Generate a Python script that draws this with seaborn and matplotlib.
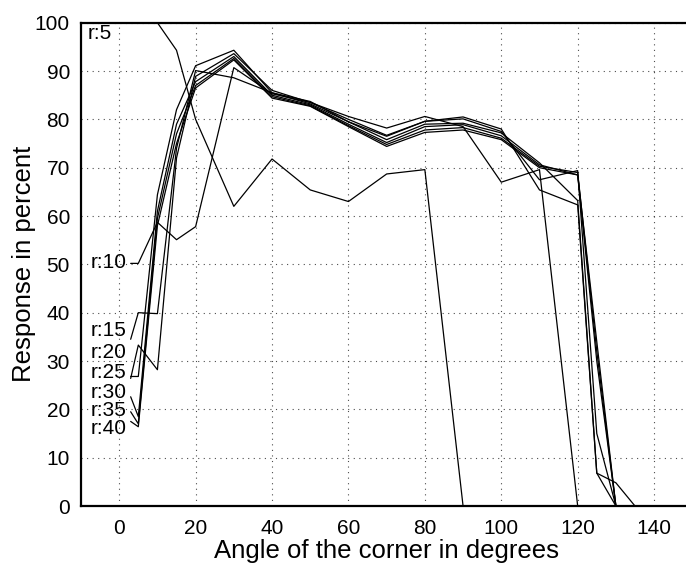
import numpy as np
import pandas as pd
import matplotlib
matplotlib.use('Agg')
import matplotlib.pyplot as plt
import seaborn as sns

angles = [3, 5, 10, 15, 20, 30, 40, 50, 60, 70, 80, 90, 100, 110, 120, 125, 130, 135]
r5  = [100, 100, 100, 94.3, 80.0, 62.0, 71.8, 65.4, 63.0, 68.7, 69.6, 0, 0, 0, 0, 0, 0, 0]
r10 = [50.2, 50.2, 58.7, 55.1, 57.8, 90.7, 85.3, 83.5, 80.6, 78.2, 80.6, 78.5, 67.0, 69.6, 0, 0, 0, 0]
r15 = [34.5, 40.0, 39.8, 74.0, 90.1, 88.6, 85.5, 83.7, 79.5, 76.5, 79.6, 80.5, 78.0, 65.4, 62.3, 6.8, 4.8, 0]
r20 = [26.4, 33.3, 28.2, 72.0, 88.9, 93.6, 86.0, 83.5, 80.0, 76.7, 79.6, 80.1, 77.5, 67.5, 69.4, 15.0, 0, 0]
r25 = [26.8, 26.8, 64.4, 82.0, 91.1, 94.3, 85.5, 83.2, 79.5, 75.8, 79.0, 79.2, 77.2, 71.0, 63.2, 6.8, 0, 0]
r30 = [22.6, 18.5, 61.0, 79.0, 87.8, 93.0, 85.0, 83.0, 79.0, 75.2, 78.5, 78.9, 76.6, 70.6, 68.5, 30.0, 0, 0]
r35 = [19.5, 17.0, 59.5, 77.0, 87.0, 92.6, 84.7, 82.8, 78.7, 74.8, 77.8, 78.3, 76.1, 70.3, 69.0, 32.0, 0, 0]
r40 = [17.5, 16.4, 58.0, 75.0, 86.5, 92.3, 84.4, 82.7, 78.5, 74.4, 77.3, 77.8, 75.8, 70.0, 68.5, 34.0, 0, 0]

series_names = ["r:5", "r:10", "r:15", "r:20", "r:25", "r:30", "r:35", "r:40"]
series_values = [r5, r10, r15, r20, r25, r30, r35, r40]
label_y = [97.8, 50.3, 36.4, 31.8, 27.6, 23.5, 19.8, 16.0]

xticks = [0, 20, 40, 60, 80, 100, 120, 140]
yticks = [0, 10, 20, 30, 40, 50, 60, 70, 80, 90, 100]

rows = []
for name, vals in zip(series_names, series_values):
    for a, v in zip(angles, vals):
        rows.append({"angle": a, "response": v, "series": name})
df = pd.DataFrame(rows)

sns.set_style("white")
plt.rcParams['font.family'] = ['Liberation Sans', 'DejaVu Sans']
plt.rcParams['text.color'] = 'black'
plt.rcParams['axes.labelcolor'] = 'black'
plt.rcParams['xtick.color'] = 'black'
plt.rcParams['ytick.color'] = 'black'

fig = plt.figure(figsize=(6.86, 5.72), dpi=100)
W, H = 686, 572
x_left_px, x_right_px = 81, 692.3
y_top_px, y_bot_px = 22.7, 506
ax = fig.add_axes([x_left_px / W, 1 - y_bot_px / H,
                   (x_right_px - x_left_px) / W, (y_bot_px - y_top_px) / H])

sns.lineplot(data=df, x="angle", y="response", hue="series",
             palette=["black"] * len(series_names), estimator=None,
             sort=False, legend=False, linewidth=0.9, ax=ax)

ax.set_xlim(-10, 150)
ax.set_ylim(0, 100)
ax.set_xticks(xticks)
ax.set_yticks(yticks)
ax.set_xticklabels([str(t) for t in xticks], fontsize=15)
ax.set_yticklabels([str(t) for t in yticks], fontsize=15)
ax.tick_params(axis='both', direction='in', length=5, width=1, colors='black',
               labelcolor='black')
ax.tick_params(axis='y', pad=8)
ax.tick_params(axis='x', pad=9)
ax.grid(True, linestyle=(0, (1, 4)), color='black', linewidth=0.8, alpha=0.7)
for s in ['left', 'bottom', 'top']:
    ax.spines[s].set_color('black')
    ax.spines[s].set_linewidth(1.6)
ax.spines['right'].set_visible(False)

ax.set_xlabel("Angle of the corner in degrees", fontsize=18.5, labelpad=1, color='black')
ax.set_ylabel("Response in percent", fontsize=18.5, labelpad=-1, color='black')

for i, (name, ly) in enumerate(zip(series_names, label_y)):
    if i == 0:
        ax.text(-8.2, ly, name, ha='left', va='center', fontsize=15, color='black')
    else:
        ax.text(2.0, ly, name, ha='right', va='center', fontsize=15, color='black')

fig.savefig("out.png", dpi=100)
